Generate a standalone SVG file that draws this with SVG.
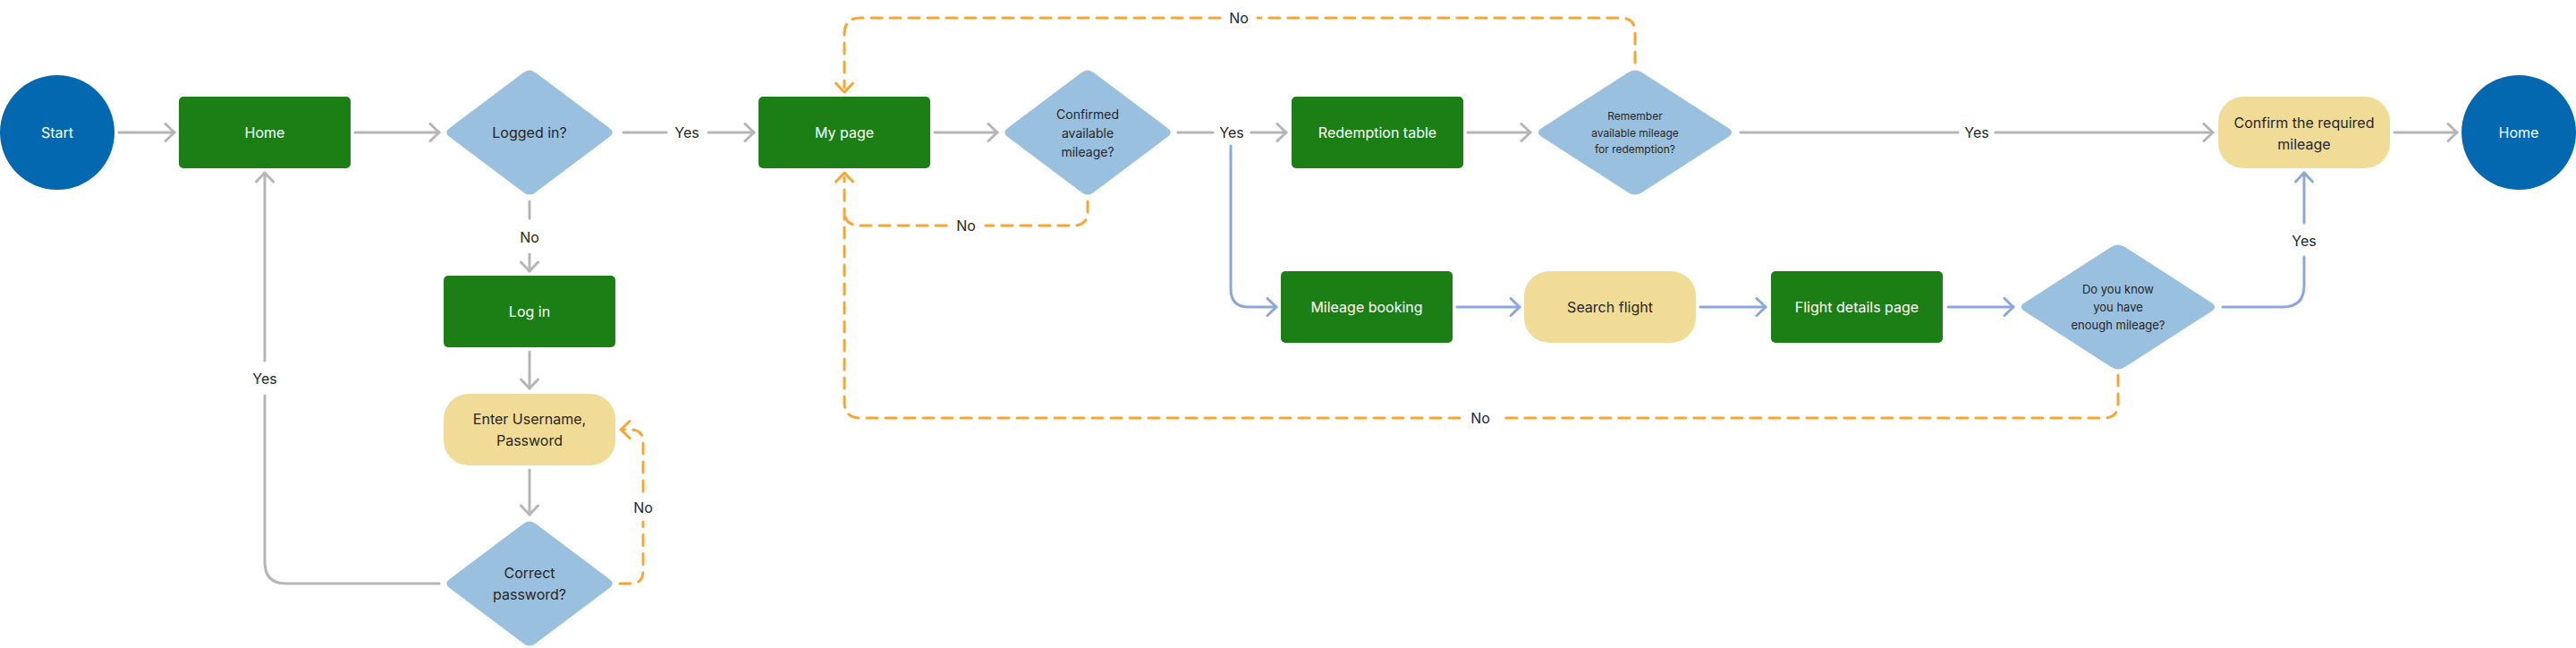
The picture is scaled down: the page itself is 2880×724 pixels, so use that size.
<svg xmlns="http://www.w3.org/2000/svg" width="2880" height="724" viewBox="0 0 2880 724">
<style>
text{font-family:Inter,"Noto Sans","Liberation Sans",sans-serif;text-anchor:middle}
.t16{font-size:16px}
.w{fill:#ffffff}
.d{fill:#262626}
.green{fill:#1c7f15}
.circ{fill:#0468b1}
.dia{fill:#99c0df}
.yel{fill:#f0dc97}
.cg{fill:none;stroke:#b5b5b5;stroke-width:3;stroke-linecap:round;stroke-linejoin:round}
.cb{fill:none;stroke:#8ba7dc;stroke-width:3;stroke-linecap:round;stroke-linejoin:round}
.co{fill:none;stroke:#f8a630;stroke-width:3;stroke-linecap:round;stroke-dasharray:12 9}
.ao{fill:none;stroke:none}
.lbl{font-size:16px;fill:#262626}
</style>
<defs>
<marker id="mg" viewBox="0 0 14 22" refX="12" refY="11" markerWidth="14" markerHeight="22" markerUnits="userSpaceOnUse" orient="auto"><path d="M2,1.5 L12,11 L2,20.5" fill="none" stroke="#b5b5b5" stroke-width="3" stroke-linecap="round" stroke-linejoin="round"/></marker>
<marker id="mb" viewBox="0 0 14 22" refX="12" refY="11" markerWidth="14" markerHeight="22" markerUnits="userSpaceOnUse" orient="auto"><path d="M2,1.5 L12,11 L2,20.5" fill="none" stroke="#8ba7dc" stroke-width="3" stroke-linecap="round" stroke-linejoin="round"/></marker>
<marker id="mo" viewBox="0 0 14 22" refX="12" refY="11" markerWidth="14" markerHeight="22" markerUnits="userSpaceOnUse" orient="auto"><path d="M2,1.5 L12,11 L2,20.5" fill="none" stroke="#f8a630" stroke-width="3" stroke-linecap="round" stroke-linejoin="round"/></marker>
<path id="dm" d="M-89.3,-5 L-6.7,-67 Q0,-72 6.7,-67 L89.3,-5 Q96,0 89.3,5 L6.7,67 Q0,72 -6.7,67 L-89.3,5 Q-96,0 -89.3,-5 Z"/>
<path id="dl" d="M-104.2,-5 L-7.8,-67 Q0,-72 7.8,-67 L104.2,-5 Q112,0 104.2,5 L7.8,67 Q0,72 -7.8,67 L-104.2,5 Q-112,0 -104.2,-5 Z"/>
</defs>

<g id="connectors">
  <path class="cg" d="M133,148 H195" marker-end="url(#mg)"/>
  <path class="cg" d="M397,148 H491" marker-end="url(#mg)"/>
  <path class="cg" d="M697,148 H745"/>
  <text class="lbl" x="768" y="154">Yes</text>
  <path class="cg" d="M792,148 H843" marker-end="url(#mg)"/>
  <path class="cg" d="M592,225 V244"/>
  <text class="lbl" x="592" y="271">No</text>
  <path class="cg" d="M592,284 V303" marker-end="url(#mg)"/>
  <path class="cg" d="M592,393 V434" marker-end="url(#mg)"/>
  <path class="cg" d="M592,525 V575" marker-end="url(#mg)"/>
  <path class="cg" d="M491,652 H320 Q296,652 296,628 V442"/>
  <text class="lbl" x="296" y="429">Yes</text>
  <path class="cg" d="M296,403 V193" marker-end="url(#mg)"/>
  <path class="cg" d="M1045,148 H1115" marker-end="url(#mg)"/>
  <path class="cg" d="M1317,148 H1356"/>
  <text class="lbl" x="1377" y="154">Yes</text>
  <path class="cg" d="M1399,148 H1438" marker-end="url(#mg)"/>
  <path class="cg" d="M1641,148 H1711" marker-end="url(#mg)"/>
  <path class="cg" d="M1946,148 H2189"/>
  <text class="lbl" x="2210" y="154">Yes</text>
  <path class="cg" d="M2231,148 H2474" marker-end="url(#mg)"/>
  <path class="cg" d="M2677,148 H2747" marker-end="url(#mg)"/>

  <path class="cb" d="M1376,163 V323 Q1376,343 1396,343 H1427" marker-end="url(#mb)"/>
  <path class="cb" d="M1629,343 H1699" marker-end="url(#mb)"/>
  <path class="cb" d="M1901,343 H1974" marker-end="url(#mb)"/>
  <path class="cb" d="M2178,343 H2251" marker-end="url(#mb)"/>
  <path class="cb" d="M2485,343 H2552 Q2576,343 2576,319 V287"/>
  <text class="lbl" x="2576" y="275">Yes</text>
  <path class="cb" d="M2576,249 V193" marker-end="url(#mb)"/>

  <path class="co" d="M693,652 H705 Q719,652 719,638 V583"/>
  <text class="lbl" x="719" y="573">No</text>
  <path class="co" d="M719,549 V494 Q719,480 705,480 H697"/>
  <path class="ao" d="M704,480 L694,480" marker-end="url(#mo)"/>

  <path class="co" d="M1216,225 V236 Q1216,252 1200,252 H1102"/>
  <text class="lbl" x="1080" y="258">No</text>
  <path class="co" d="M1058,252 H962 Q944,252 944,236"/>

  <path class="co" d="M2368,419 V451 Q2368,467 2352,467 H1678"/>
  <text class="lbl" x="1655" y="473">No</text>
  <path class="co" d="M1632,467 H962 Q944,467 944,449 V198"/>
  <path class="ao" d="M944,203 L944,193" marker-end="url(#mo)"/>

  <path class="co" d="M1828,70 V36 Q1828,20 1812,20 H1406"/>
  <text class="lbl" x="1385" y="26">No</text>
  <path class="co" d="M1364,20 H962 Q944,20 944,38 V98"/>
  <path class="ao" d="M944,93 L944,103" marker-end="url(#mo)"/>
</g>

<g id="start"><circle class="circ" cx="64" cy="148" r="64"/><text class="t16 w" x="64" y="154">Start</text></g>
<g id="home1"><rect class="green" x="200" y="108" width="192" height="80" rx="5"/><text class="t16 w" x="296" y="154">Home</text></g>
<g id="logged"><use href="#dm" class="dia" x="592" y="148"/><text class="t16 d" x="592" y="154">Logged in?</text></g>
<g id="login"><rect class="green" x="496" y="308" width="192" height="80" rx="5"/><text class="t16 w" x="592" y="354">Log in</text></g>
<g id="enter"><rect class="yel" x="496" y="440" width="192" height="80" rx="28"/><text class="t16 d" x="592" y="474">Enter Username,</text><text class="t16 d" x="592" y="498">Password</text></g>
<g id="correct"><use href="#dm" class="dia" x="592" y="652"/><text class="t16 d" x="592" y="646">Correct</text><text class="t16 d" x="592" y="670">password?</text></g>
<g id="mypage"><rect class="green" x="848" y="108" width="192" height="80" rx="5"/><text class="t16 w" x="944" y="154">My page</text></g>
<g id="confirmed"><use href="#dm" class="dia" x="1216" y="148"/><text class="d" font-size="14" x="1216" y="133">Confirmed</text><text class="d" font-size="14" x="1216" y="154">available</text><text class="d" font-size="14" x="1216" y="175">mileage?</text></g>
<g id="redemption"><rect class="green" x="1444" y="108" width="192" height="80" rx="5"/><text class="t16 w" x="1540" y="154">Redemption table</text></g>
<g id="remember"><use href="#dl" class="dia" x="1828" y="148"/><text class="d" font-size="12" x="1828" y="133.5">Remember</text><text class="d" font-size="12" x="1828" y="152.5">available mileage</text><text class="d" font-size="12" x="1828" y="171">for redemption?</text></g>
<g id="confirmreq"><rect class="yel" x="2480" y="108" width="192" height="80" rx="28"/><text class="t16 d" x="2576" y="143">Confirm the required</text><text class="t16 d" x="2576" y="167">mileage</text></g>
<g id="home2"><circle class="circ" cx="2816" cy="148" r="64"/><text class="t16 w" x="2816" y="154">Home</text></g>
<g id="mileage"><rect class="green" x="1432" y="303" width="192" height="80" rx="5"/><text class="t16 w" x="1528" y="349">Mileage booking</text></g>
<g id="search"><rect class="yel" x="1704" y="303" width="192" height="80" rx="28"/><text class="t16 d" x="1800" y="349">Search flight</text></g>
<g id="flight"><rect class="green" x="1980" y="303" width="192" height="80" rx="5"/><text class="t16 w" x="2076" y="349">Flight details page</text></g>
<g id="doyouknow"><use href="#dl" class="dia" x="2368" y="343"/><text class="d" font-size="13" x="2368" y="327.5">Do you know</text><text class="d" font-size="13" x="2368" y="347.5">you have</text><text class="d" font-size="13" x="2368" y="367.5">enough mileage?</text></g>
</svg>
